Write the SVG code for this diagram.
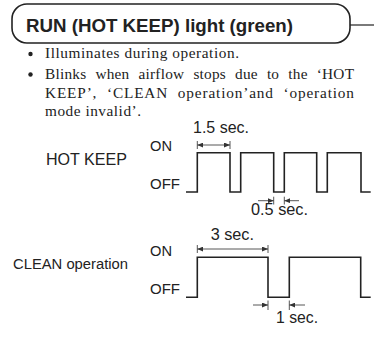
<svg xmlns="http://www.w3.org/2000/svg" width="374" height="338" viewBox="0 0 374 338">
<defs>
<marker id="ah" viewBox="0 0 6 5" refX="6" refY="2.5" markerWidth="6" markerHeight="5" markerUnits="userSpaceOnUse" orient="auto-start-reverse">
<path d="M0,0 L6,2.5 L0,5 z" fill="#333"/>
</marker>
</defs>
<style>
.sans{font-family:"Liberation Sans",Arial,sans-serif;fill:#222}
.serif{font-family:"Liberation Serif","Times New Roman",serif;fill:#222;font-size:15.3px}
.wave{fill:none;stroke:#222;stroke-width:1.6}
.dim{fill:none;stroke:#444;stroke-width:0.9}
.tick{fill:none;stroke:#444;stroke-width:0.9}
</style>
<rect width="374" height="338" fill="#fff"/>
<g id="header">
<rect x="12" y="4" width="338" height="39" rx="15" ry="15" fill="none" stroke="#222" stroke-width="1.6"/>
<line x1="350" y1="25" x2="374" y2="25" stroke="#222" stroke-width="1.2"/>
<text class="sans" x="26" y="31.5" font-size="18.5" font-weight="bold" textLength="267" lengthAdjust="spacingAndGlyphs">RUN (HOT KEEP) light (green)</text>
</g>
<g id="body-text">
<circle cx="30.5" cy="54" r="2.2" fill="#222"/>
<circle cx="30.5" cy="74.5" r="2.2" fill="#222"/>
<text class="serif" x="45" y="58.3" textLength="194" lengthAdjust="spacing">Illuminates during operation.</text>
<text class="serif" x="45" y="79.3" textLength="309" lengthAdjust="spacing" word-spacing="5">Blinks when airflow stops due to the ‘HOT</text>
<text class="serif" x="45" y="97.6" textLength="309" lengthAdjust="spacing" word-spacing="5">KEEP’, ‘CLEAN operation’and ‘operation</text>
<text class="serif" x="45" y="115.5" textLength="96" lengthAdjust="spacing">mode invalid’.</text>
</g>
<g id="hotkeep">
<text class="sans" x="46" y="165" font-size="16" textLength="81" lengthAdjust="spacingAndGlyphs">HOT KEEP</text>
<text class="sans" x="150" y="150.7" font-size="15" textLength="22" lengthAdjust="spacingAndGlyphs">ON</text>
<text class="sans" x="150" y="189.3" font-size="15" textLength="30" lengthAdjust="spacingAndGlyphs">OFF</text>
<path class="wave" d="M186,192 H197.3 V152.7 H230 V192 H240.7 V152.7 H273.7 V192 H284.3 V152.7 H316.7 V192 H327.3 V152.7 H361 V192 H370.7"/>
<text class="sans" x="193" y="133.3" font-size="16" textLength="56" lengthAdjust="spacingAndGlyphs">1.5 sec.</text>
<text class="sans" x="251" y="215" font-size="16" textLength="57" lengthAdjust="spacingAndGlyphs">0.5 sec.</text>
</g>
<g id="clean">
<text class="sans" x="13" y="269" font-size="14" textLength="115" lengthAdjust="spacingAndGlyphs">CLEAN operation</text>
<text class="sans" x="150" y="255.7" font-size="15" textLength="22" lengthAdjust="spacingAndGlyphs">ON</text>
<text class="sans" x="150" y="294.3" font-size="15" textLength="30" lengthAdjust="spacingAndGlyphs">OFF</text>
<path class="wave" d="M186,297.3 H197.3 V257.3 H268 V297.3 H289.3 V257.3 H360.7 V297.3 H370.7"/>
<text class="sans" x="210.7" y="240" font-size="16" textLength="43.3" lengthAdjust="spacingAndGlyphs">3 sec.</text>
<text class="sans" x="276" y="322.5" font-size="16" textLength="42" lengthAdjust="spacingAndGlyphs">1 sec.</text>
</g>
<g id="connectors">
<line class="tick" x1="197.3" y1="141" x2="197.3" y2="149"/>
<line class="tick" x1="230" y1="141" x2="230" y2="149"/>
<line class="dim" x1="197.3" y1="145" x2="230" y2="145" marker-start="url(#ah)" marker-end="url(#ah)"/>
<line class="tick" x1="273.7" y1="196.7" x2="273.7" y2="204.5"/>
<line class="tick" x1="284.3" y1="196.7" x2="284.3" y2="204.5"/>
<line class="dim" x1="258" y1="200.7" x2="273.7" y2="200.7" marker-end="url(#ah)"/>
<line class="dim" x1="299" y1="200.7" x2="284.3" y2="200.7" marker-end="url(#ah)"/>
<line class="tick" x1="197.3" y1="245" x2="197.3" y2="253"/>
<line class="tick" x1="268" y1="245" x2="268" y2="253"/>
<line class="dim" x1="197.3" y1="249" x2="268" y2="249" marker-start="url(#ah)" marker-end="url(#ah)"/>
<line class="tick" x1="268" y1="300.5" x2="268" y2="310"/>
<line class="tick" x1="289.3" y1="300.5" x2="289.3" y2="310"/>
<line class="dim" x1="253" y1="305" x2="268" y2="305" marker-end="url(#ah)"/>
<line class="dim" x1="305" y1="305" x2="289.3" y2="305" marker-end="url(#ah)"/>
</g>
</svg>
